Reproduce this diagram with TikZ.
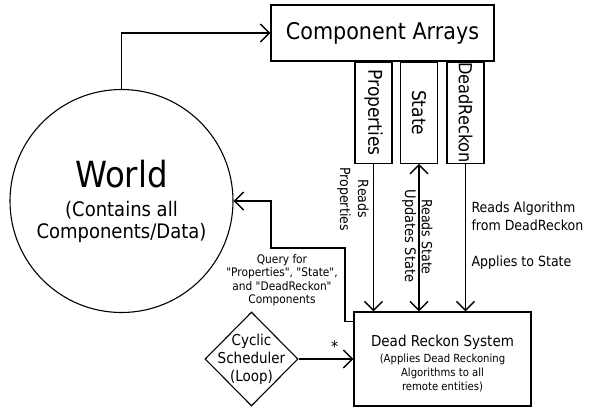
\documentclass[tikz,border=0pt]{standalone}
\usepackage{fontspec}
\setmainfont{DejaVu Sans Condensed}[Ligatures=TeXOff]
\usetikzlibrary{arrows.meta,shapes.geometric}

\begin{document}
\begin{tikzpicture}[x=1pt, y=-1pt,
    box/.style={draw, line width=1.4pt, inner sep=0pt},
    column/.style={box, anchor=north, minimum width=37pt, minimum height=101pt},
    arr/.style={line width=1.4pt, -{Straight Barb[length=9pt,width=18pt]}},
    arrtwo/.style={line width=1.4pt, {Straight Barb[length=9pt,width=18pt]}-{Straight Barb[length=9pt,width=18pt]}},
    lbl/.style={font=\fontsize{14}{18}\selectfont}]
      \useasboundingbox (0,0) rectangle (591,408);

      \node[box, minimum width=223pt, minimum height=56pt, font=\fontsize{23}{28}\selectfont] (ca)  at  (382.5, 33){Component Arrays};
      \node[column, font=\fontsize{19}{24}\selectfont] (props)  at  (373.5, 61.5){\rotatebox{-90}{Properties}};
      \node[column, font=\fontsize{19}{24}\selectfont] (state)  at  (419, 61.5){\rotatebox{-90}{State}};
      \node[column, font=\fontsize{18}{22}\selectfont] (dead)  at  (465.5, 61.5){\rotatebox{-90}{DeadReckon}};

      \node[draw, circle, line width=1.1pt, minimum size=223pt, align=center,
        font=\fontsize{20}{22}\selectfont] (world)  at  (121.5, 201)
        {{\fontsize{36}{38}\selectfont World}\\[7pt] (Contains all\\Components/Data)};

      \node[box, minimum width=177pt, minimum height=94pt,
        label={[align=center, yshift=-5pt, font=\fontsize{11.2}{14}\selectfont]center:{\fontsize{15}{18}\selectfont Dead Reckon System}\\[2pt] (Applies Dead Reckoning\\Algorithms to all\\remote entities)}] (drs)  at  (442.5, 359){};

      \node[draw, diamond, line width=1.1pt, minimum width=93pt, minimum height=94pt, inner sep=0pt,
        label={[align=center, font=\fontsize{15}{18}\selectfont]center:Cyclic\\Scheduler\\(Loop)}] (sched)  at  (251.5, 359){};

      \node[lbl, rotate=-90, align=center] (lprops)  at  (353, 199){Reads\\Properties};
      \node[lbl, rotate=-90, font=\fontsize{14.5}{18}\selectfont] (lupd)  at  (409, 236){Updates State};
      \node[lbl, rotate=-90] (lread)  at  (427, 237){Reads State};
      \node[lbl, anchor=west, align=left] (lalg)  at  (468, 216){Reads Algorithm\\from DeadReckon};
      \node[lbl, anchor=west] (lapp)  at  (468, 263){Applies to State};
      \node[align=center, font=\fontsize{11.8}{13.5}\selectfont] (lquery)  at  (282, 280)
        {Query for\\"Properties", "State",\\and "DeadReckon"\\Components};

      \draw[arr] (world.north) |- (ca.west);
      \draw[arr] (props.south) -- (props.south |- drs.north);
      \draw[arrtwo] (state.south) -- (state.south |- drs.north);
      \draw[arr] (dead.south) -- (dead.south |- drs.north);
      \draw[arr] ([yshift=-10pt]drs.north west) -| (345, 248) -| (271, 201) -- (world.east);
      \draw[arr] (sched.east) -- (drs.west)
        node[pos=0.66, above=2pt, font=\fontsize{16}{18}\selectfont] (star) {*};
    \end{tikzpicture}
\end{document}
